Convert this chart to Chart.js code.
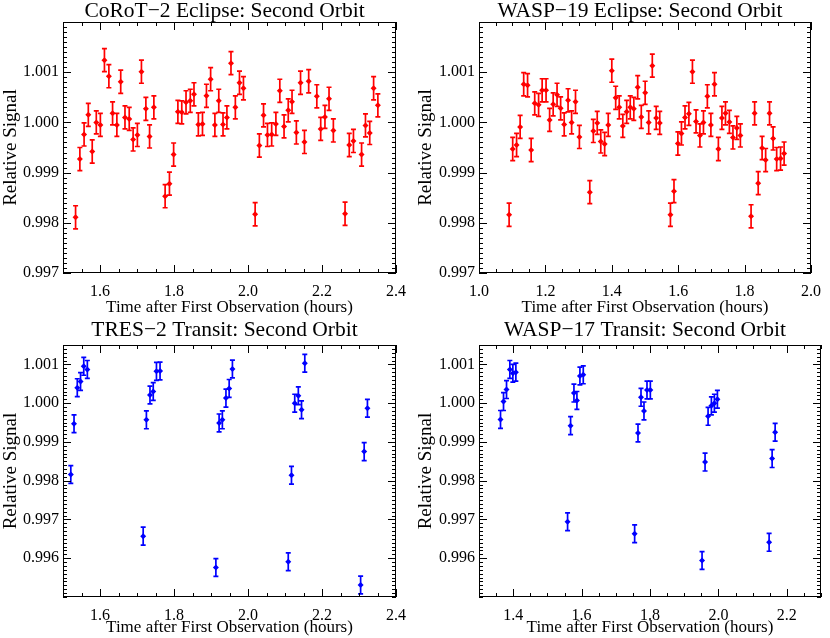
<!DOCTYPE html>
<html><head><meta charset="utf-8">
<script src="https://cdn.jsdelivr.net/npm/chart.js@4/dist/chart.umd.min.js"></script>
<style>
html,body{margin:0;padding:0;background:#fff;}
#wrap{position:relative;width:830px;height:638px;background:#fff;}
.p{position:absolute;}
</style></head><body>
<div id="wrap">
<div class="p" style="left:0;top:0;"><canvas id="c1" width="415" height="319"></canvas></div>
<div class="p" style="left:415px;top:0;"><canvas id="c2" width="415" height="319"></canvas></div>
<div class="p" style="left:0;top:319px;"><canvas id="c3" width="415" height="319"></canvas></div>
<div class="p" style="left:415px;top:319px;"><canvas id="c4" width="415" height="319"></canvas></div>
</div>
<script>
// ---------- data ----------
const corotTime = [1.534,1.5456,1.557,1.5684,1.579,1.590,1.601,1.612,1.624,1.634,1.6456,1.656,1.6675,1.679,1.6895,1.701,1.712,1.724,1.734,1.7456,
  1.776,1.7877,1.799,1.8105,1.821,1.8325,1.844,1.854,1.8658,1.877,1.8877,1.899,1.9105,1.921,1.9325,1.943,1.954,1.9658,1.977,1.9877,
  2.0193,2.0307,2.042,2.0526,2.064,2.0754,2.086,2.0974,2.1088,2.119,2.1307,2.142,2.1526,2.164,2.186,2.1965,2.208,2.219,2.2307,
  2.2623,2.2737,2.285,2.307,2.3175,2.329,2.3395,2.351];
const corotSignal = [0.99811,0.99927,0.99976,1.00015,0.99942,1.00000,0.99995,1.00124,1.00092,1.00018,0.99995,1.00081,1.00010,1.00007,0.99966,0.99975,1.00101,1.00027,0.99972,1.00030,
  0.99853,0.99878,0.99936,1.00021,1.00020,1.00040,1.00043,1.00056,0.99996,0.99997,1.00053,1.00086,0.99995,1.00043,0.99996,1.00010,1.00118,1.00030,1.00079,1.00068,
  0.99817,0.99954,1.00014,0.99975,0.99976,0.99997,1.00063,0.99992,1.00024,1.00041,0.99980,1.00079,0.99961,1.00082,1.00052,0.99987,1.00011,1.00047,0.99984,
  0.99818,0.99955,0.99963,0.99936,0.99994,0.99979,1.00068,1.00034];
const corotErr = 0.00023;

const wasp19Time = [1.0907,1.1015,1.1132,1.1239,1.1346,1.1463,1.1571,1.1678,1.1795,1.1902,1.2020,1.2127,1.2234,1.2351,1.2459,1.2566,1.2683,1.2790,1.2907,1.3024,
  1.3337,1.3444,1.3561,1.3668,1.3785,1.3893,1.4000,1.4117,1.4224,1.4332,1.4449,1.4556,1.4663,1.4780,1.4888,1.5005,1.5112,1.5220,1.5337,1.5444,
  1.5766,1.5873,1.5990,1.6098,1.6205,1.6322,1.6429,1.6537,1.6654,1.6761,1.6878,1.6985,1.7093,1.7210,1.7317,1.7424,1.7541,1.7649,1.7766,1.7873,
  1.8195,1.8302,1.8410,1.8527,1.8634,1.8751,1.8859,1.8966,1.9083,1.9190];
const wasp19Signal = [0.99816,0.99947,0.99955,0.99991,1.00076,1.00074,0.99945,1.00038,1.00035,1.00064,1.00064,1.00005,1.00036,1.00055,1.00028,0.99996,1.00044,1.00000,1.00041,0.99971,
  0.99861,0.99983,0.99999,0.99962,0.99957,0.99995,1.00103,1.00049,1.00030,0.99993,1.00021,1.00030,1.00027,1.00070,1.00011,1.00059,1.00000,1.00113,1.00009,0.99999,
  0.99816,0.99863,0.99958,0.99978,1.00010,1.00017,1.00101,1.00002,0.99974,1.00000,1.00052,0.99995,1.00076,0.99947,1.00009,1.00018,1.00001,0.99970,0.99989,0.99974,
  0.99813,1.00018,0.99879,0.99949,0.99925,1.00018,0.99968,0.99927,0.99928,0.99938];
const wasp19Err = 0.00023;

const tres2Time = [1.5211,1.5298,1.5386,1.5474,1.5561,1.5658, 1.7167,1.7254,1.7351,1.7439,1.7526,1.7623,
  1.9132,1.9219,1.9307,1.9404,1.9491,1.9579, 2.1088,2.1175,2.1263,2.1360,2.1447,2.1535, 2.3044,2.3140,2.3228];
const tres2Signal = [0.99816,0.99947,1.00040,1.00056,1.00095,1.00087, 0.99657,0.99957,1.00021,1.00030,1.00082,1.00083,
  0.99576,0.99949,0.99957,1.00013,1.00038,1.00088, 0.99591,0.99814,1.00000,1.00019,0.99983,1.00103, 0.99531,0.99875,0.99987];
const tres2Err = 0.00023;

const wasp17Time = [1.3629,1.3717,1.3805,1.3902,1.3990,1.4078, 1.5590,1.5678,1.5776,1.5863,1.5951,1.6049,
  1.7551,1.7649,1.7737,1.7824,1.7912,1.8010, 1.9522,1.9610,1.9698,1.9795,1.9883,1.9971, 2.1483,2.1571,2.1659];
const wasp17Signal = [0.99958,1.00004,1.00035,1.00087,1.00077,1.00080, 0.99694,0.99942,1.00026,1.00007,1.00070,1.00073,
  0.99663,0.99923,1.00015,0.99980,1.00034,1.00034, 0.99594,0.99848,0.99966,0.99993,1.00000,1.00010, 0.99641,0.99857,0.99925];
const wasp17Err = 0.00023;

const xTicksA = [1.6, 1.8, 2.0, 2.2, 2.4];
const xTicksB = [1.0, 1.2, 1.4, 1.6, 1.8, 2.0];
const xTicksC = [1.4, 1.6, 1.8, 2.0, 2.2];
const yTicksTop = [0.997, 0.998, 0.999, 1.000, 1.001];
const yTicksBottom = [0.996, 0.997, 0.998, 0.999, 1.000, 1.001];

const titles = ['CoRoT\u22122 Eclipse: Second Orbit', 'WASP\u221219 Eclipse: Second Orbit',
                'TRES\u22122 Transit: Second Orbit', 'WASP\u221217 Transit: Second Orbit'];
const xLabel = 'Time after First Observation (hours)';
const yLabel = 'Relative Signal';

// ---------- drawing ----------
const FONT = "'Liberation Serif', 'DejaVu Serif', serif";

const frameTicks = {
  id: 'frameTicks',
  afterLayout(chart) {
    const t = chart.titleBlock;
    if (t) { t.left = chart.chartArea.left - 10; t.right = chart.chartArea.right; }
  },
  beforeDatasetsDraw(chart) {
    const {ctx, scales: {x, y}} = chart;
    const ds = chart.data.datasets[0];
    ctx.save();
    ctx.strokeStyle = ds.borderColor;
    ctx.lineWidth = 1.7;
    ds.data.forEach(p => {
      const px = x.getPixelForValue(p.x);
      const y1 = y.getPixelForValue(p.y - ds.err);
      const y2 = y.getPixelForValue(p.y + ds.err);
      ctx.beginPath();
      ctx.moveTo(px, y1); ctx.lineTo(px, y2);
      ctx.moveTo(px - 2.5, y1); ctx.lineTo(px + 2.5, y1);
      ctx.moveTo(px - 2.5, y2); ctx.lineTo(px + 2.5, y2);
      ctx.stroke();
    });
    ctx.restore();
  },
  afterDatasetsDraw(chart, args, opts) {
    const {ctx, chartArea: a, scales: {x, y}} = chart;
    ctx.save();
    ctx.strokeStyle = '#000';
    ctx.lineWidth = 1;
    ctx.beginPath();
    const xt = (v, len) => {
      const px = Math.round(x.getPixelForValue(v)) + 0.5;
      ctx.moveTo(px, a.bottom); ctx.lineTo(px, a.bottom - len);
      ctx.moveTo(px, a.top); ctx.lineTo(px, a.top + len);
    };
    const yt = (v, len) => {
      const py = Math.round(y.getPixelForValue(v)) + 0.5;
      ctx.moveTo(a.left, py); ctx.lineTo(a.left + len, py);
      ctx.moveTo(a.right, py); ctx.lineTo(a.right - len, py);
    };
    for (let i = Math.ceil(x.min / opts.xMinor - 1e-6); i * opts.xMinor <= x.max + 1e-9; i++) xt(i * opts.xMinor, 4);
    for (let i = Math.ceil(y.min / opts.yMinor - 1e-6); i * opts.yMinor <= y.max + 1e-9; i++) yt(i * opts.yMinor, 4);
    x.ticks.forEach(t => xt(t.value, 8));
    y.ticks.forEach(t => yt(t.value, 8));
    ctx.stroke();
    ctx.strokeRect(Math.round(a.left) + 0.5, Math.round(a.top) + 0.5,
                   Math.round(a.right - a.left) - 1, Math.round(a.bottom - a.top) - 1);
    ctx.restore();
  }
};

function makeChart(id, c) {
  new Chart(document.getElementById(id), {
    type: 'scatter',
    data: {
      datasets: [{
        data: c.time.map((t, i) => ({x: t, y: c.signal[i]})),
        err: c.err,
        backgroundColor: c.color,
        borderColor: c.color,
        pointStyle: 'rectRot',
        pointRadius: 3,
        borderWidth: 0
      }]
    },
    options: {
      responsive: false,
      animation: false,
      devicePixelRatio: 1,
      layout: {padding: {left: 0, right: c.padRight, top: 0, bottom: 0}},
      plugins: {
        legend: {display: false},
        tooltip: {enabled: false},
        title: {
          display: true, text: c.title, color: '#000',
          font: {family: FONT, size: 21.5, weight: 'normal', lineHeight: 22 / 21.5},
          padding: {top: 0, bottom: c.titlePadBottom}
        },
        frameTicks: {xMinor: 0.05, yMinor: 0.0001}
      },
      scales: {
        x: {
          type: 'linear', min: c.xMin, max: c.xMax,
          grid: {display: false, drawTicks: false},
          border: {display: false},
          afterBuildTicks: s => { s.ticks = c.xTicks.map(v => ({value: v})); },
          afterFit: s => { s.height = c.xAxisH; },
          ticks: {autoSkip: false, maxRotation: 0, padding: 9, color: '#000',
                  font: {family: FONT, size: 16}, callback: v => v.toFixed(1)},
          title: {display: true, text: xLabel, color: '#000',
                  font: {family: FONT, size: 17}, padding: {top: 0, bottom: c.xTitlePad}}
        },
        y: {
          type: 'linear', min: c.yMin, max: c.yMax,
          grid: {display: false, drawTicks: false},
          border: {display: false},
          afterBuildTicks: s => { s.ticks = c.yTicks.map(v => ({value: v})); },
          afterFit: s => { s.width = c.yAxisW; },
          ticks: {autoSkip: false, padding: 4, color: '#000',
                  font: {family: FONT, size: 16}, callback: v => v.toFixed(3)},
          title: {display: true, text: yLabel, color: '#000',
                  font: {family: FONT, size: 19}, padding: {top: 0, bottom: 0}}
        }
      }
    },
    plugins: [frameTicks]
  });
}

makeChart('c1', {time: corotTime, signal: corotSignal, err: corotErr, color: '#ff0000', title: titles[0],
  xMin: 1.5, xMax: 2.4, xTicks: xTicksA, yMin: 0.997, yMax: 1.002, yTicks: yTicksTop,
  padRight: 10, yAxisW: 63, xAxisH: 46, titlePadBottom: 0, xTitlePad: 1});
makeChart('c2', {time: wasp19Time, signal: wasp19Signal, err: wasp19Err, color: '#ff0000', title: titles[1],
  xMin: 1.0, xMax: 2.0, xTicks: xTicksB, yMin: 0.997, yMax: 1.002, yTicks: yTicksTop,
  padRight: 9, yAxisW: 64, xAxisH: 46, titlePadBottom: 0, xTitlePad: 1});
makeChart('c3', {time: tres2Time, signal: tres2Signal, err: tres2Err, color: '#0000ff', title: titles[2],
  xMin: 1.5, xMax: 2.4, xTicks: xTicksA, yMin: 0.995, yMax: 1.0015, yTicks: yTicksBottom,
  padRight: 10, yAxisW: 63, xAxisH: 41, titlePadBottom: 4, xTitlePad: 0});
makeChart('c4', {time: wasp17Time, signal: wasp17Signal, err: wasp17Err, color: '#0000ff', title: titles[3],
  xMin: 1.3, xMax: 2.3, xTicks: xTicksC, yMin: 0.995, yMax: 1.0015, yTicks: yTicksBottom,
  padRight: 9, yAxisW: 64, xAxisH: 41, titlePadBottom: 4, xTitlePad: 0});
</script>
</body></html>
